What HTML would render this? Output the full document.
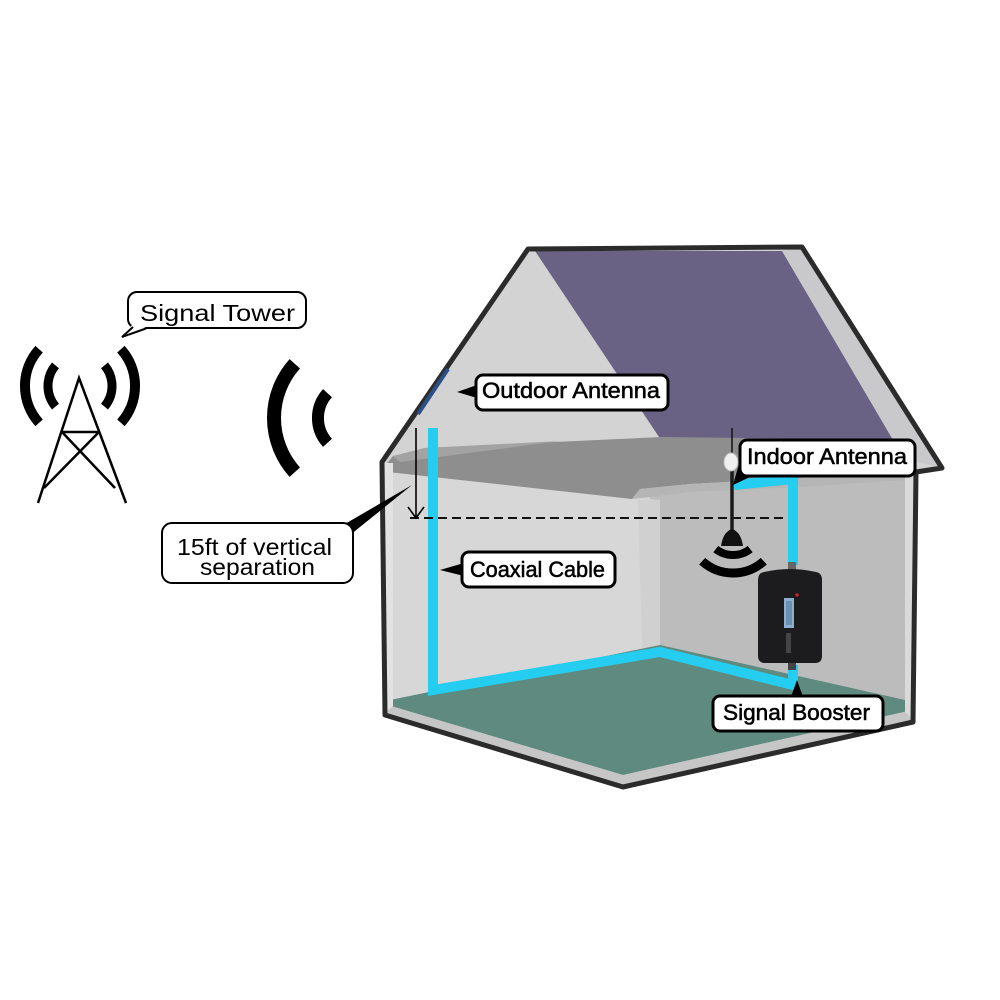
<!DOCTYPE html>
<html>
<head>
<meta charset="utf-8">
<style>
  html,body{margin:0;padding:0;background:#fff;}
  svg{display:block;}
  .lbl{font-family:"Liberation Sans",Arial,sans-serif;fill:#000;stroke:#000;stroke-width:0.55;}
  .lbl2{font-family:"Liberation Sans",Arial,sans-serif;fill:#000;}
</style>
</head>
<body>
<svg width="1000" height="1000" viewBox="0 0 1000 1000" xmlns="http://www.w3.org/2000/svg">
  <rect x="0" y="0" width="1000" height="1000" fill="#ffffff"/>

  <!-- ===== Signal tower ===== -->
  <g fill="none" stroke="#000" stroke-width="2.5" stroke-linejoin="miter">
    <path d="M38,503 L79,378 L126,503"/>
    <line x1="62" y1="432" x2="99" y2="432"/>
    <line x1="62" y1="432" x2="115" y2="488"/>
    <line x1="99" y1="432" x2="44" y2="488"/>
  </g>
  <g fill="none" stroke="#000" stroke-linecap="butt">
    <path d="M39.1,349.2 A55,55 0 0 0 39.1,422.8" stroke-width="10"/>
    <path d="M120.9,349.2 A55,55 0 0 1 120.9,422.8" stroke-width="10"/>
    <path d="M55.5,365.4 A32,32 0 0 0 55.5,406.6" stroke-width="9"/>
    <path d="M104.5,365.4 A32,32 0 0 1 104.5,406.6" stroke-width="9"/>
  </g>

  <!-- central big waves -->
  <g fill="none" stroke="#000" stroke-linecap="butt">
    <path d="M294.8,363.8 A81,81 0 0 0 294.8,472.2" stroke-width="14"/>
    <path d="M327.5,393.2 A37,37 0 0 0 327.5,442.8" stroke-width="12"/>
  </g>

  <!-- ===== House ===== -->
  <polygon points="528,249 802,247 942,468 915,472 913,722 623,787 385,715 382,462" fill="#d3d3d3"/>
  <polygon points="782,250 802,248 940,467 905,460 893,440" fill="#c9c9cc"/>
  <polygon points="535,251 782,251 893,440 661,440" fill="#6a6284"/>
  <!-- back (right) wall -->
  <polygon points="650,488 905,474 905,704 650,645" fill="#bcbcbc"/>
  <!-- left interior wall -->
  <polygon points="388,470 632,498 660,500 660,645 392,700" fill="#d7d7d7"/>
  <polygon points="638,500 660,500 660,645 642,649" fill="#d0d0d0"/>
  <!-- ceiling slab -->
  <polygon points="385,466 393,456 425,448 662,437 895,440 910,452 906,470 800,478 690,484 640,489 632,499 388,472" fill="#8e8e8e"/>
  <polygon points="640,489 690,484 800,478 906,470 906,480 800,487 690,492 650,497 632,499" fill="#b5b5b5"/>
  <polygon points="393,456 425,448 560,441 400,462" fill="#a3a3a3"/>
  <!-- floor -->
  <polygon points="390,700 660,645 905,700 905,712 623,775 390,706" fill="#5f8a7f"/>
  <polygon points="388,705 623,775 908,711 911,722 623,787 385,715" fill="#c6c6c6"/>
  <!-- wall cut edges -->
  <polygon points="384,463 393,463 393,706 386,712" fill="#e2e2e2"/>
  <polygon points="905,474 913,472 912,718 905,712" fill="#dadada"/>
  <!-- outline -->
  <path d="M528,249 L802,247 L942,468 L916,472 L913,722 L623,787 L385,715 L382,462 Z" fill="none" stroke="#2b2b2b" stroke-width="5" stroke-linejoin="round"/>

  <!-- outdoor antenna on roof slope -->
  <line x1="448" y1="369" x2="418" y2="414" stroke="#2c4d85" stroke-width="4"/>

  <!-- ===== Coaxial cable ===== -->
  <polyline points="433,428 433,690 660,652 793,685 793,665" fill="none" stroke="#25cdf0" stroke-width="10" stroke-linejoin="miter"/>
  <polyline points="734,485 793,479 793,565" fill="none" stroke="#25cdf0" stroke-width="10" stroke-linejoin="miter"/>

  <!-- dashed separation line -->
  <line x1="410" y1="518" x2="784" y2="518" stroke="#111" stroke-width="2" stroke-dasharray="9,5"/>
  <!-- vertical arrow -->
  <line x1="416" y1="428" x2="416" y2="518" stroke="#000" stroke-width="1.6"/>
  <polyline points="408,507 416,518 424,507" fill="none" stroke="#000" stroke-width="1.6"/>

  <!-- ===== Indoor antenna ===== -->
  <line x1="732" y1="428" x2="732" y2="532" stroke="#111" stroke-width="1.5"/>
  <line x1="732" y1="470" x2="732" y2="530" stroke="#1a1a1a" stroke-width="3.5"/>
  <ellipse cx="731" cy="462" rx="7" ry="9" fill="#f0f0f0" stroke="#bdbdbd" stroke-width="1"/>
  <path d="M721,546 Q723,532 732,529 Q741,532 743,546 Z" fill="#111"/>
  <g fill="none" stroke="#000" stroke-linecap="butt">
    <path d="M715.8,549.1 A28,28 0 0 0 750.2,549.1" stroke-width="8"/>
    <path d="M702.2,561.2 A46,46 0 0 0 763.8,561.2" stroke-width="9"/>
  </g>

  <!-- ===== Booster ===== -->
  <rect x="788" y="562" width="8" height="10" fill="#666"/>
  <rect x="788" y="661" width="8" height="9" fill="#444"/>
  <path d="M764,572 Q790,566 816,572 Q822,573 822,580 L822,656 Q822,663 815,663 L765,663 Q758,663 758,656 L758,580 Q758,573 764,572 Z" fill="#1c1c1e"/>
  <rect x="784" y="598" width="10" height="30" fill="#8eb0d0"/>
  <rect x="786" y="601" width="6" height="24" fill="#6d8fb0"/>
  <circle cx="797" cy="595" r="1.6" fill="#d22"/>
  <rect x="786" y="633" width="5" height="20" fill="#444"/>

  <!-- ===== Labels ===== -->
  <rect x="128" y="292" width="178" height="36" rx="9" ry="9" fill="#fff" stroke="#000" stroke-width="2"/>
  <polygon points="132,325 146,327.5 122,337" fill="#fff"/>
  <polyline points="133,327 122,337 146,328.5" fill="none" stroke="#000" stroke-width="2"/>
  <text class="lbl2" x="140" y="321" font-size="23" textLength="155" lengthAdjust="spacingAndGlyphs">Signal Tower</text>

  <polygon points="338,528 350,535 412,485" fill="#000"/>
  <rect x="162" y="523" width="191" height="60" rx="10" ry="10" fill="#fff" stroke="#000" stroke-width="2"/>
  <text class="lbl2" x="177" y="555" font-size="23" textLength="155" lengthAdjust="spacingAndGlyphs">15ft of vertical</text>
  <text class="lbl2" x="200" y="575" font-size="23" textLength="115" lengthAdjust="spacingAndGlyphs">separation</text>

  <polygon points="477,385 477,398 457,392" fill="#000"/>
  <rect x="476" y="375" width="192" height="35" rx="7" ry="7" fill="#fff" stroke="#000" stroke-width="3"/>
  <text class="lbl" x="482" y="398" font-size="22.5" textLength="178" lengthAdjust="spacingAndGlyphs">Outdoor Antenna</text>

  <polygon points="739,464 752,476 733,485" fill="#000"/>
  <rect x="740" y="440" width="175" height="36" rx="7" ry="7" fill="#fff" stroke="#000" stroke-width="3"/>
  <text class="lbl" x="747" y="464" font-size="22.5" textLength="160" lengthAdjust="spacingAndGlyphs">Indoor Antenna</text>

  <polygon points="464,563 464,576 440,570" fill="#000"/>
  <rect x="462" y="552" width="153" height="35" rx="7" ry="7" fill="#fff" stroke="#000" stroke-width="3"/>
  <text class="lbl" x="470" y="577" font-size="22" textLength="135" lengthAdjust="spacingAndGlyphs">Coaxial Cable</text>

  <polygon points="791,697 803,697 797,680" fill="#000"/>
  <rect x="713" y="696" width="170" height="35" rx="7" ry="7" fill="#fff" stroke="#000" stroke-width="3"/>
  <text class="lbl" x="723" y="720" font-size="22" textLength="147" lengthAdjust="spacingAndGlyphs">Signal Booster</text>
</svg>
</body>
</html>
